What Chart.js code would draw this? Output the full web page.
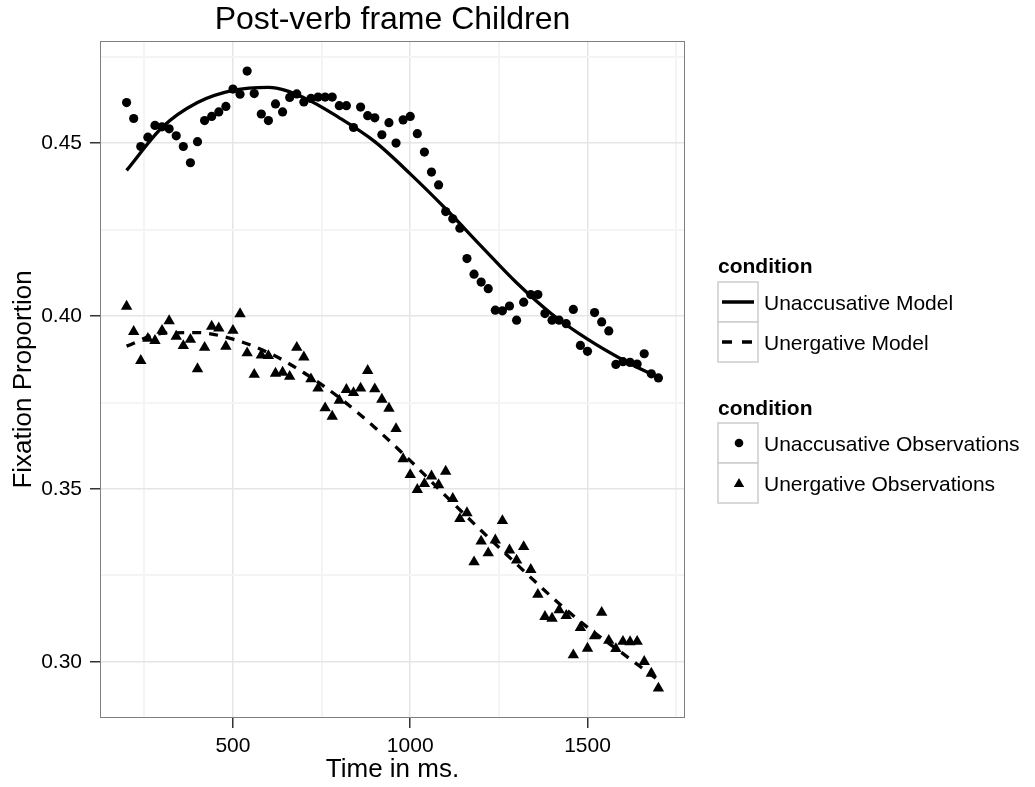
<!DOCTYPE html>
<html>
<head>
<meta charset="utf-8">
<script src="https://cdn.jsdelivr.net/npm/chart.js@4.4.1/dist/chart.umd.min.js"></script>
<style>
html,body{margin:0;padding:0;background:#ffffff;}
canvas{display:block;}
</style>
</head>
<body>
<canvas id="chart" width="1035" height="787"></canvas>
<script>
// ---------- data ----------
const timeMs = [200,220,240,260,280,300,320,340,360,380,
  400,420,440,460,480,500,520,540,560,580,
  600,620,640,660,680,700,720,740,760,780,
  800,820,840,860,880,900,920,940,960,980,
  1000,1020,1040,1060,1080,1100,1120,1140,1160,1180,
  1200,1220,1240,1260,1280,1300,1320,1340,1360,1380,
  1400,1420,1440,1460,1480,1500,1520,1540,1560,1580,
  1600,1620,1640,1660,1680,1700];

const unaccusativeObs = [0.4617,0.4571,0.4490,0.4517,0.4551,0.4547,0.4541,0.4521,0.4490,0.4443,
  0.4504,0.4565,0.4577,0.4590,0.4606,0.4656,0.4641,0.4708,0.4643,0.4584,
  0.4565,0.4613,0.4590,0.4632,0.4642,0.4619,0.4629,0.4633,0.4633,0.4633,
  0.4608,0.4608,0.4545,0.4604,0.4579,0.4573,0.4524,0.4559,0.4500,0.4567,
  0.4577,0.4527,0.4474,0.4416,0.4379,0.4302,0.4281,0.4254,0.4166,0.4121,
  0.4098,0.4079,0.4017,0.4015,0.4029,0.3988,0.4040,0.4062,0.4062,0.4007,
  0.3988,0.3988,0.3978,0.4019,0.3915,0.3898,0.4010,0.3983,0.3957,0.3860,
  0.3868,0.3866,0.3861,0.3891,0.3833,0.3821];

const unergativeObs = [0.4028,0.3955,0.3871,0.3935,0.3929,0.3958,0.3986,0.3941,0.3914,0.3932,
  0.3847,0.3909,0.3970,0.3965,0.3912,0.3958,0.4006,0.3893,0.3831,0.3887,
  0.3885,0.3834,0.3837,0.3825,0.3909,0.3881,0.3818,0.3791,0.3734,0.3710,
  0.3756,0.3787,0.3778,0.3791,0.3842,0.3789,0.3759,0.3733,0.3674,0.3587,
  0.3541,0.3498,0.3515,0.3537,0.3512,0.3551,0.3472,0.3414,0.3431,0.3289,
  0.3349,0.3315,0.3352,0.3408,0.3323,0.3294,0.3333,0.3267,0.3195,0.3131,
  0.3126,0.3150,0.3134,0.3020,0.3099,0.3039,0.3075,0.3143,0.3062,0.3038,
  0.3059,0.3058,0.3059,0.3001,0.2967,0.2924];

const modelTimes = [200,300,400,500,600,700,800,900,1000,1100,1200,1300,1400,1500,1600,1700];
const unaccusativeModel = [0.4421,0.4545,0.4617,0.4652,0.4661,0.4631,0.4573,0.4504,0.4411,0.4310,0.4202,0.4096,0.4005,0.3933,0.3873,0.3822];
const unergativeModel = [0.3913,0.3950,0.3952,0.3933,0.3894,0.3836,0.3764,0.3678,0.3582,0.3480,0.3380,0.3283,0.3187,0.3100,0.3024,0.2947];

const xMajorTicks = [500,1000,1500];
const xMinorTicks = [250,750,1250,1750];
const yMajorTicks = [0.30,0.35,0.40,0.45];
const yMajorLabels = ["0.30","0.35","0.40","0.45"];
const yMinorTicks = [0.325,0.375,0.425,0.475];

const chartTitle = "Post-verb frame Children";
const xTitle = "Time in ms.";
const yTitle = "Fixation Proportion";
const legendTitle = "condition";
const modelLabels = ["Unaccusative Model","Unergative Model"];
const obsLabels = ["Unaccusative Observations","Unergative Observations"];

// ---------- styling ----------
const FONT = "'Liberation Sans', Arial, Helvetica, sans-serif";
const MAJOR_GRID = '#e5e5e5';
const MINOR_GRID = '#f4f4f4';

function toXY(xs, ys){ return xs.map((x,i)=>({x:x, y:ys[i]})); }
function isMajorX(v){ return xMajorTicks.some(t=>Math.abs(t-v)<1e-6); }
function isMajorY(v){ return yMajorTicks.some(t=>Math.abs(t-v)<1e-6); }

const panelBorder = {
  id:'panelBorder',
  afterDraw(chart){
    const a = chart.chartArea, c = chart.ctx;
    c.save();
    c.strokeStyle = '#7f7f7f';
    c.lineWidth = 1;
    c.strokeRect(Math.round(a.left)+0.5, Math.round(a.top)+0.5, Math.round(a.right-a.left)-1, Math.round(a.bottom-a.top)-1);
    c.restore();
  }
};

function drawTri(c, x, y, r){
  c.beginPath();
  c.moveTo(x, y - r);
  c.lineTo(x + r*Math.sin(2*Math.PI/3), y - r*Math.cos(2*Math.PI/3));
  c.lineTo(x + r*Math.sin(4*Math.PI/3), y - r*Math.cos(4*Math.PI/3));
  c.closePath();
  c.fill();
}

const ggLegend = {
  id:'ggLegend',
  afterDraw(chart){
    const c = chart.ctx;
    c.save();
    c.textAlign = 'left';
    c.textBaseline = 'alphabetic';
    c.fillStyle = '#000';
    const kx = 718, kw = 40, kh = 40;
    const groups = [
      {titleY:273.3, top:282, labels:modelLabels, kind:'line'},
      {titleY:415, top:423, labels:obsLabels, kind:'point'}
    ];
    groups.forEach(g=>{
      c.font = 'bold 21px ' + FONT;
      c.fillStyle = '#000';
      c.fillText(legendTitle, kx, g.titleY);
      g.labels.forEach((lab, i)=>{
        const top = g.top + i*kh;
        const cy = top + kh/2;
        c.fillStyle = '#ffffff';
        c.fillRect(kx, top, kw, kh);
        c.strokeStyle = '#cccccc';
        c.lineWidth = 1.5;
        c.setLineDash([]);
        c.strokeRect(kx, top, kw, kh);
        c.fillStyle = '#000';
        c.strokeStyle = '#000';
        if (g.kind === 'line'){
          c.lineWidth = 3.5;
          c.setLineDash(i===0 ? [] : [10,10]);
          c.beginPath();
          c.moveTo(kx+4, cy);
          c.lineTo(kx+kw-4, cy);
          c.stroke();
          c.setLineDash([]);
        } else {
          if (i===0){
            c.beginPath(); c.arc(kx+kw/2+1, cy, 4.3, 0, Math.PI*2); c.fill();
          } else {
            drawTri(c, kx+kw/2+1, cy+1, 6);
          }
        }
        c.font = '21px ' + FONT;
        c.fillStyle = '#000';
        c.fillText(lab, 764, cy + 8);
      });
    });
    c.restore();
  }
};

const ctx = document.getElementById('chart').getContext('2d');
new Chart(ctx, {
  type: 'line',
  data: {
    datasets: [
      {label: obsLabels[0], data: toXY(timeMs, unaccusativeObs), showLine:false,
        pointStyle:'circle', pointRadius:4.6, pointBorderWidth:0,
        pointBackgroundColor:'#000', borderColor:'#000', backgroundColor:'#000'},
      {label: obsLabels[1], data: toXY(timeMs, unergativeObs), showLine:false,
        pointStyle:'triangle', pointRadius:6.6, pointBorderWidth:0,
        pointBackgroundColor:'#000', borderColor:'#000', backgroundColor:'#000'},
      {label: modelLabels[0], data: toXY(modelTimes, unaccusativeModel), showLine:true,
        borderColor:'#000', borderWidth:3.3, pointRadius:0, cubicInterpolationMode:'monotone', fill:false},
      {label: modelLabels[1], data: toXY(modelTimes, unergativeModel), showLine:true,
        borderColor:'#000', borderWidth:3.3, borderDash:[9,8], pointRadius:0, cubicInterpolationMode:'monotone', fill:false}
    ]
  },
  options: {
    responsive:false,
    animation:false,
    devicePixelRatio:1,
    layout:{padding:{top:0,left:0,right:350,bottom:0}},
    plugins:{
      legend:{display:false},
      tooltip:{enabled:false},
      title:{display:true, text:chartTitle, fullSize:false, color:'#000',
        font:{family:FONT, size:32, weight:'normal', lineHeight:1.2},
        padding:{top:1.4,bottom:1.2}}
    },
    scales:{
      x:{
        type:'linear', min:125, max:1775,
        afterBuildTicks(s){ s.ticks = xMajorTicks.concat(xMinorTicks).sort((a,b)=>a-b).map(v=>({value:v})); },
        afterFit(s){ s.height = 69; },
        ticks:{
          autoSkip:false, maxRotation:0, minRotation:0, padding:6, color:'#000',
          font:{family:FONT, size:21},
          callback(v){ return isMajorX(v) ? String(v) : ''; }
        },
        grid:{
          drawTicks:true, tickLength:10,
          color(c){ return isMajorX(c.tick.value) ? MAJOR_GRID : MINOR_GRID; },
          lineWidth(c){ return isMajorX(c.tick.value) ? 1.5 : 2; },
          tickColor(c){ return isMajorX(c.tick.value) ? '#333333' : 'rgba(0,0,0,0)'; },
          tickWidth:1.5
        },
        border:{display:false},
        title:{display:true, text:xTitle, color:'#000', font:{family:FONT, size:26, lineHeight:1.2}, padding:{top:0,bottom:2}}
      },
      y:{
        type:'linear', min:0.2838, max:0.4795,
        afterBuildTicks(s){ s.ticks = yMajorTicks.concat(yMinorTicks).sort((a,b)=>a-b).map(v=>({value:v})); },
        afterFit(s){ s.width = 100; },
        ticks:{
          autoSkip:false, padding:8, color:'#000',
          font:{family:FONT, size:21},
          callback(v){ const k = yMajorTicks.findIndex(t=>Math.abs(t-v)<1e-6); return k>=0 ? yMajorLabels[k] : ''; }
        },
        grid:{
          drawTicks:true, tickLength:10,
          color(c){ return isMajorY(c.tick.value) ? MAJOR_GRID : MINOR_GRID; },
          lineWidth(c){ return isMajorY(c.tick.value) ? 1.5 : 2; },
          tickColor(c){ return isMajorY(c.tick.value) ? '#333333' : 'rgba(0,0,0,0)'; },
          tickWidth:1.5
        },
        border:{display:false},
        title:{display:true, text:yTitle, color:'#000', font:{family:FONT, size:26, lineHeight:1.2}, padding:{top:8.4,bottom:0}}
      }
    }
  },
  plugins:[panelBorder, ggLegend]
});
</script>
</body>
</html>
